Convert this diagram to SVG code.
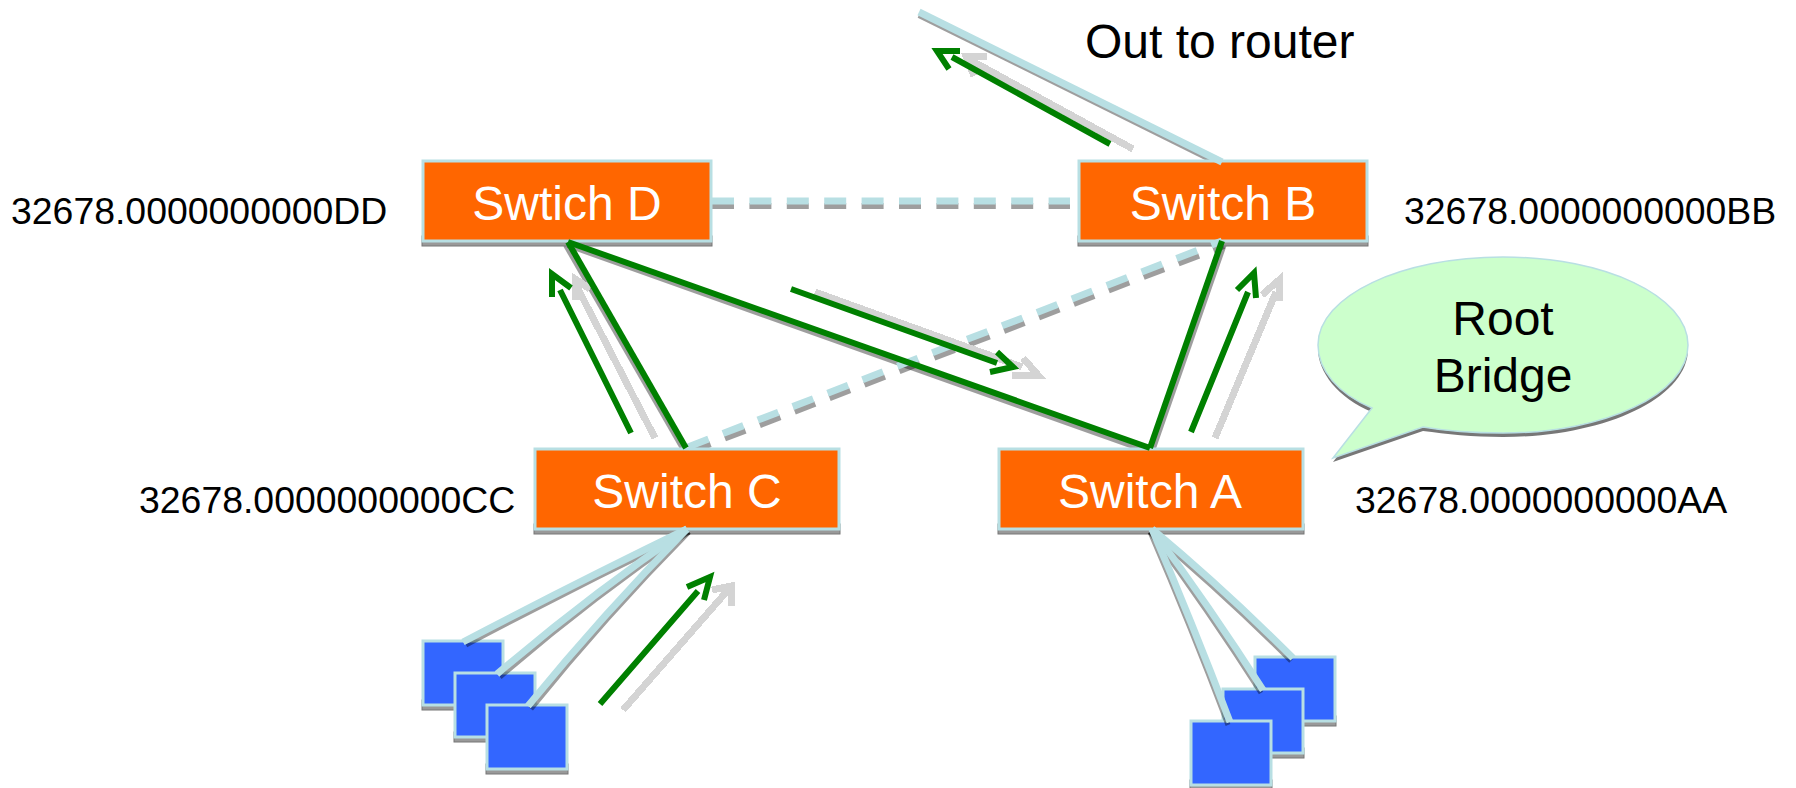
<svg xmlns="http://www.w3.org/2000/svg" width="1796" height="788" viewBox="0 0 1796 788">
<style>
text{font-family:"Liberation Sans",Arial,sans-serif;fill:#000}
.lg{font-size:48px}
.id{font-size:37.4px}
.w{fill:#fff;text-anchor:middle}
.m{text-anchor:middle}
.sh{fill:#999;stroke:#777;stroke-width:1}
.sw{fill:#FF6600;stroke:#B8DFE3;stroke-width:3}
.pc{fill:#3366FF;stroke:#B8DFE3;stroke-width:3}
.c{fill:none;stroke:#B8DFE3;stroke-width:7}
.s{fill:none;stroke:#000;stroke-opacity:.38;stroke-width:6}
.d{stroke-dasharray:22 15.4}
.g{fill:none;stroke:#008000;stroke-width:6}
.gh{fill:none;stroke:#D4D4D4;stroke-width:7;shape-rendering:crispEdges}
</style>
<g id="connectors">
<g id="shadows">
<path class="s" d="M919 15 1222 165"/>
<path class="s d" d="M712 206H1070"/>
<path class="s d" d="M690 452 1224 246"/>
<path class="s" d="M566 245 684 450"/>
<path class="s" d="M568 245 1150 452"/>
<path class="s" d="M1224 244 1152 451"/>
</g>
<g id="ghost-arrows">
<path class="gh" d="M1133 149 972 61M987 56H966L974 76"/>
<path class="gh" d="M655 438 577 287M575 300V279L590 289"/>
<path class="gh" d="M815 292 1022 367M1012 375H1038L1023 358"/>
<path class="gh" d="M1215 438 1276 292M1262 295 1279 280V301"/>
<path class="gh" d="M623 710 728 590M712 590 731 586V606"/>
</g>
</g>
<g id="switch-d"><rect class="sh" x="422" y="236" width="290" height="10"/><rect class="sw" x="423" y="161" width="288" height="80"/><text class="lg w" x="567" y="220">Swtich D</text></g>
<g id="switch-b"><rect class="sh" x="1078" y="236" width="290" height="10"/><rect class="sw" x="1079" y="161" width="288" height="80"/><text class="lg w" x="1223" y="220">Switch B</text></g>
<g id="switch-c"><rect class="sh" x="534" y="524" width="306" height="10"/><rect class="sw" x="535" y="449" width="304" height="80"/><text class="lg w" x="687" y="508">Switch C</text></g>
<g id="switch-a"><rect class="sh" x="998" y="524" width="306" height="10"/><rect class="sw" x="999" y="449" width="304" height="80"/><text class="lg w" x="1150" y="508">Switch A</text></g>
<g id="pc-c1"><rect class="sh" x="422" y="700" width="82" height="10"/><rect class="pc" x="423" y="641" width="80" height="64"/></g>
<g id="pc-c2"><rect class="sh" x="454" y="732" width="82" height="10"/><rect class="pc" x="455" y="673" width="80" height="64"/></g>
<g id="pc-c3"><rect class="sh" x="486" y="764" width="82" height="10"/><rect class="pc" x="487" y="705" width="80" height="64"/></g>
<g id="pc-a1"><rect class="sh" x="1254" y="716" width="82" height="10"/><rect class="pc" x="1255" y="657" width="80" height="64"/></g>
<g id="pc-a2"><rect class="sh" x="1222" y="748" width="82" height="10"/><rect class="pc" x="1223" y="689" width="80" height="64"/></g>
<g id="pc-a3"><rect class="sh" x="1190" y="780" width="82" height="10"/><rect class="pc" x="1191" y="721" width="80" height="64"/></g>
<g id="links">
<g id="link-shadows">
<path class="s" style="stroke-width:5" d="M689 532Q578 586 466 645"/>
<path class="s" style="stroke-width:5" d="M689 532Q592 598 500 677"/>
<path class="s" style="stroke-width:5" d="M689 532Q606 616 531 709"/>
<path class="s" style="stroke-width:5" d="M1150 532Q1222 592 1291 661"/>
<path class="s" style="stroke-width:5" d="M1150 532Q1208 610 1261 693"/>
<path class="s" style="stroke-width:5" d="M1150 532Q1190 625 1228 725"/>
</g>
<path class="c" d="M919 12 1222 162"/>
<path class="c d" d="M712 201H1070"/>
<path class="c d" d="M688 447 1222 241"/>
<path class="c" d="M687 529Q576 583 463 642"/>
<path class="c" d="M687 529Q590 595 497 674"/>
<path class="c" d="M687 529Q604 613 528 706"/>
<path class="c" d="M1152 529Q1224 589 1293 658"/>
<path class="c" d="M1152 529Q1210 607 1263 690"/>
<path class="c" d="M1152 529Q1192 622 1230 722"/>
</g>
<g id="green-links">
<path class="g" d="M568 242 686 448"/>
<path class="g" d="M568 242 1150 448"/>
<path class="g" d="M1222 241 1150 448"/>
</g>
<g id="green-arrows">
<path class="g" d="M1110 144 952 57M960 51H937L949 69"/>
<path class="g" d="M631 433 560 290M552 297V274L571 288"/>
<path class="g" d="M791 289 997 363M997 352 1013 367 990 372"/>
<path class="g" d="M1191 432 1248 292M1237 290 1254 273 1256 298"/>
<path class="g" d="M600 704 698 591M687 587 710 577 704 600"/>
</g>
<g id="root-bridge">
<path fill="#777" d="M1372 412C1338 398 1318 372 1318 349C1318 300 1401 261 1503 261C1605 261 1688 300 1688 349C1688 398 1605 437 1503 437C1473 437 1446 434 1423 431L1333 462Z"/>
<path fill="#CCFFCC" stroke="#B8DFE3" stroke-width="1.500" d="M1372 408C1338 394 1318 370 1318 345C1318 296 1401 257 1503 257C1605 257 1688 296 1688 345C1688 394 1605 433 1503 433C1473 433 1446 431 1423 427L1333 458Z"/>
<text class="lg m" x="1503" y="335">Root</text>
<text class="lg m" x="1503" y="392">Bridge</text>
</g>
<text class="lg" x="1085" y="58">Out to router</text>
<text class="id" x="11" y="224">32678.0000000000DD</text>
<text class="id" x="1404" y="224">32678.0000000000BB</text>
<text class="id" x="139" y="513">32678.0000000000CC</text>
<text class="id" x="1355" y="513">32678.0000000000AA</text>
</svg>
